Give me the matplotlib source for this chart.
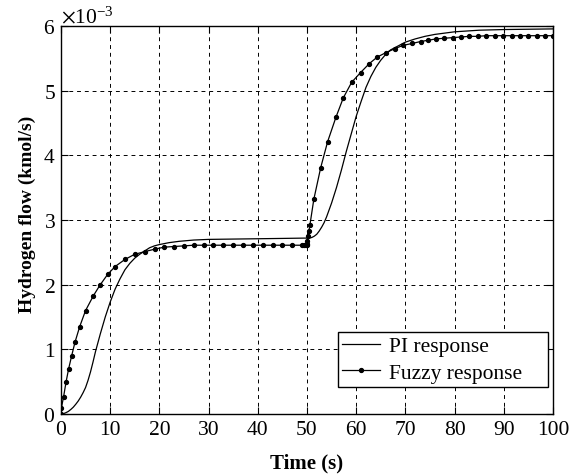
import matplotlib
matplotlib.use("Agg")
import matplotlib.pyplot as plt
import numpy as np

plt.rcParams['font.family'] = ['Liberation Serif', 'DejaVu Serif']
plt.rcParams['mathtext.fontset'] = 'stix'

# PI response (values in 1e-3 kmol/s)
pi_t = [0, 0.5, 1, 1.5, 2, 2.5, 3, 3.5, 4, 4.5, 5, 5.5, 6, 6.5, 7, 7.5, 8, 9, 10,
        11, 12, 13, 14, 15, 16, 17, 18, 19, 20,
        22, 24, 27, 30, 35, 40, 45, 49.5, 50, 50.5, 51, 51.5, 52, 52.5, 53, 53.5,
        54, 55, 56, 57, 58, 59, 60, 61, 62, 63, 64, 65, 66, 67, 68, 69, 70, 72, 74,
        76, 78, 80, 85, 90, 95, 100]
pi_v = [0, 0.005, 0.02, 0.04, 0.07, 0.105, 0.15, 0.20, 0.26, 0.33, 0.41, 0.52,
        0.65, 0.80, 0.96, 1.10, 1.24, 1.50, 1.73, 1.93, 2.09,
        2.23, 2.33, 2.41, 2.47, 2.52, 2.57, 2.60, 2.62,
        2.65, 2.67, 2.69, 2.70, 2.705, 2.71, 2.715, 2.72, 2.72, 2.72, 2.73, 2.75,
        2.78, 2.83, 2.89, 2.96, 3.05, 3.26, 3.50, 3.77, 4.06, 4.33, 4.60, 4.83,
        5.05, 5.22, 5.36, 5.47, 5.56, 5.63, 5.67, 5.71, 5.75, 5.80, 5.84, 5.87,
        5.89, 5.91, 5.935, 5.945, 5.95, 5.955]

# Fuzzy response (values in 1e-3 kmol/s)
fz_t = [0, 0.1, 0.54, 1.02, 1.56, 2.17, 2.85, 3.8, 5.0, 6.6, 7.9, 9.5, 11.0, 13.0,
        15.0, 17.0, 19.1, 21.0, 23.0, 25, 27, 29, 31, 33, 35, 37, 39, 41, 43, 45,
        47, 49, 49.4, 49.8, 50.0, 50.07, 50.1, 50.3, 50.4, 50.6, 51.4, 52.8, 54.2,
        55.9, 57.4, 59.1, 60.9, 62.7, 64.3, 66.1, 67.9, 69.5, 71.4, 73.1, 74.7,
        76.2, 77.8, 79.6, 81.3, 83.0, 84.7, 86.4, 88.2, 89.9, 91.6, 93.3, 95.0,
        96.7, 98.4, 100]
fz_v = [0, 0.10, 0.27, 0.49, 0.70, 0.90, 1.11, 1.35, 1.60, 1.83, 1.99, 2.16, 2.28,
        2.39, 2.47, 2.51, 2.55, 2.58, 2.59, 2.60, 2.61, 2.61, 2.61, 2.61, 2.61,
        2.61, 2.61, 2.61, 2.61, 2.61, 2.61, 2.61, 2.61, 2.61, 2.61, 2.63, 2.68,
        2.75, 2.83, 2.92, 3.32, 3.81, 4.21, 4.59, 4.89, 5.13, 5.28, 5.42, 5.52,
        5.59, 5.65, 5.70, 5.73, 5.76, 5.78, 5.80, 5.81, 5.82, 5.83, 5.84, 5.84,
        5.85, 5.85, 5.85, 5.85, 5.85, 5.85, 5.85, 5.85, 5.85]

x_ticks = [0, 10, 20, 30, 40, 50, 60, 70, 80, 90, 100]
y_ticks = [0, 1, 2, 3, 4, 5, 6]

fig = plt.figure(figsize=(5.72, 4.77), dpi=100)
ax = fig.add_axes([0.1066, 0.130, 0.860, 0.8134])

scale = 1e-3
ax.plot(pi_t, np.array(pi_v) * scale, color='black', lw=0.9, label='PI response')
ax.plot(fz_t, np.array(fz_v) * scale, color='black', lw=0.9, marker='o', ms=2.8,
        label='Fuzzy response    ')

ax.set_xlim(0, 100)
ax.set_ylim(0, 6 * scale)
ax.set_xticks(x_ticks)
ax.set_yticks(np.array(y_ticks) * scale)
ax.ticklabel_format(style='sci', axis='y', scilimits=(0, 0), useMathText=True)
ax.yaxis.get_offset_text().set_fontsize(15.5)

ax.grid(True, color='black', linestyle=(0, (4, 4)), linewidth=0.7)
ax.tick_params(direction='in', length=5, width=0.8, labelsize=15.5,
               top=True, right=True, pad=4)
for s in ax.spines.values():
    s.set_linewidth(1.0)
    s.set_color('black')

ax.set_xlabel('Time (s)', fontsize=15, fontweight='bold', labelpad=10)
ax.set_ylabel('Hydrogen flow (kmol/s)', fontsize=14, fontweight='bold')
ax.yaxis.set_label_coords(-0.05, 0.518)

leg = ax.legend(loc='lower right', bbox_to_anchor=(0.990, 0.0696), fontsize=15.5,
                frameon=True, fancybox=False, edgecolor='black', framealpha=1,
                borderpad=0.2, labelspacing=0.3, handlelength=1.77,
                handletextpad=0.42, borderaxespad=0.0)
leg.get_frame().set_linewidth(1.0)

fig.savefig('out.png', dpi=100)
